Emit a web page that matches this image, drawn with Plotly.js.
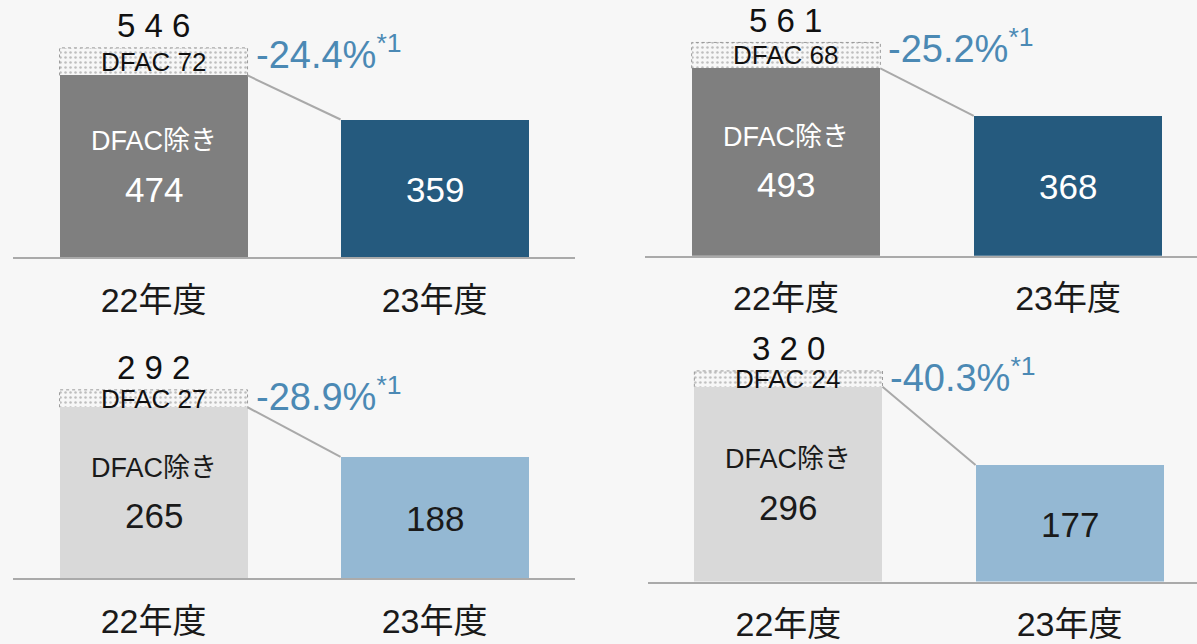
<!DOCTYPE html>
<html>
<head>
<meta charset="utf-8">
<script src="https://cdn.plot.ly/plotly-3.0.1.min.js"></script>
<style>
  html, body { margin: 0; padding: 0; background: #f7f7f7; }
  #chart { width: 1197px; height: 644px; }
</style>
</head>
<body>
<div id="chart"></div>
<script>
// data: 4 panels, 22年度 (stacked) vs 23年度
var years = ["22年度", "23年度"];
var exDfac = [474, 493, 265, 296];   // DFAC除き
var dfac = [72, 68, 27, 24];         // DFAC part
var fy23 = [359, 368, 188, 177];
var changePct = ["-24.4%", "-25.2%", "-28.9%", "-40.3%"];

// panel layout (top-left, top-right, bottom-left, bottom-right)
var xDomains = [[0.0109, 0.4804], [0.5388, 1], [0.0109, 0.4804], [0.5412, 1]];
var xRanges = [[-0.5, 1.5], [-0.5, 1.457], [-0.5, 1.5], [-0.5, 1.453]];
var yDomains = [[0.6009, 1], [0.6030, 1], [0.1022, 0.4876], [0.0970, 0.4876]];
var yRanges = [[0, 671], [0, 672.7], [0, 384.8], [0, 382.2]];
var gray22 = ["#7f7f7f", "#7f7f7f", "#d9d9d9", "#d9d9d9"];
var blue23 = ["#255a7e", "#255a7e", "#94b8d3", "#94b8d3"];
var inText = ["#ffffff", "#ffffff", "#1a1a1a", "#1a1a1a"];

var W = 0.669;
var FONT = "'Liberation Sans', 'Noto Sans CJK JP', sans-serif";
var traces = [];
var annotations = [];
var layout = {
  width: 1197, height: 644,
  margin: {l: 0, r: 0, t: 0, b: 0},
  paper_bgcolor: "#f7f7f7",
  plot_bgcolor: "rgba(0,0,0,0)",
  showlegend: false,
  barmode: "stack",
  font: {family: FONT, color: "#1a1a1a"}
};

for (var i = 0; i < 4; i++) {
  var xa = i === 0 ? "x" : "x" + (i + 1);
  var ya = i === 0 ? "y" : "y" + (i + 1);
  var top = i < 2;
  var total = exDfac[i] + dfac[i];

  traces.push({
    type: "bar", x: [0], y: [exDfac[i]], width: W,
    marker: {color: gray22[i]}, xaxis: xa, yaxis: ya
  });
  traces.push({
    type: "bar", x: [0], y: [dfac[i]], width: W,
    marker: {color: "#fbfbfb", pattern: {shape: ".", fgcolor: "#bdbdbd", size: 5, solidity: 0.2}},
    xaxis: xa, yaxis: ya
  });
  traces.push({
    type: "bar", x: [1], y: [fy23[i]], width: W,
    marker: {color: blue23[i]}, xaxis: xa, yaxis: ya
  });
  // connector from 22 (ex DFAC) top to 23 top
  traces.push({
    type: "scatter", mode: "lines",
    x: [W / 2, 1 - W / 2], y: [exDfac[i], fy23[i]],
    line: {color: "#a9a9a9", width: 2}, xaxis: xa, yaxis: ya
  });
  if (top) {
    traces.push({
      type: "scatter", mode: "lines",
      x: [-W / 2, -W / 2, W / 2, W / 2], y: [exDfac[i], total, total, exDfac[i]],
      line: {color: "#9a9a9a", width: 1, dash: "dot"}, xaxis: xa, yaxis: ya
    });
  }

  layout["xaxis" + (i === 0 ? "" : i + 1)] = {
    domain: xDomains[i], range: xRanges[i], anchor: ya,
    showline: true, linecolor: top ? "#aaaaaa" : "#9c9c9c", linewidth: 2,
    tickvals: [0, 1], ticktext: years,
    ticks: "outside", ticklen: top ? 12 : 16, tickcolor: "rgba(0,0,0,0)",
    tickfont: {size: 34, color: "#1a1a1a"},
    showgrid: false, zeroline: false, fixedrange: true
  };
  layout["yaxis" + (i === 0 ? "" : i + 1)] = {
    domain: yDomains[i], range: yRanges[i], anchor: xa,
    visible: false, showgrid: false, zeroline: false, fixedrange: true
  };

  var ax = {xref: xa, yref: ya, showarrow: false};
  annotations.push(Object.assign({}, ax, {
    x: 0, y: total, yanchor: "middle", yshift: top ? 22 : 36,
    text: String(total).split("").join(" "), font: {size: 33, color: "#111"}
  }));
  annotations.push(Object.assign({}, ax, {
    x: 0, y: exDfac[i] + dfac[i] / 2, yanchor: "middle",
    text: "DFAC " + dfac[i], font: {size: 26, color: "#111"}
  }));
  annotations.push(Object.assign({}, ax, {
    x: W / 2, y: total, xanchor: "left", xshift: 6, yanchor: "middle", yshift: top ? -4 : -2,
    text: changePct[i] + "<sup>*1</sup>", font: {size: 38, color: "#4b89b4"}
  }));
  annotations.push(Object.assign({}, ax, {
    x: 0, y: exDfac[i] / 2, yanchor: "middle", yshift: 25,
    text: "DFAC除き", font: {size: 27, color: inText[i]}
  }));
  annotations.push(Object.assign({}, ax, {
    x: 0, y: exDfac[i] / 2, yanchor: "middle", yshift: -23,
    text: String(exDfac[i]), font: {size: 35, color: inText[i]}
  }));
  annotations.push(Object.assign({}, ax, {
    x: 1, y: fy23[i] / 2, yanchor: "middle", yshift: -1,
    text: String(fy23[i]), font: {size: 35, color: inText[i]}
  }));
}
layout.annotations = annotations;

Plotly.newPlot("chart", traces, layout, {staticPlot: true, displayModeBar: false});
</script>
</body>
</html>
